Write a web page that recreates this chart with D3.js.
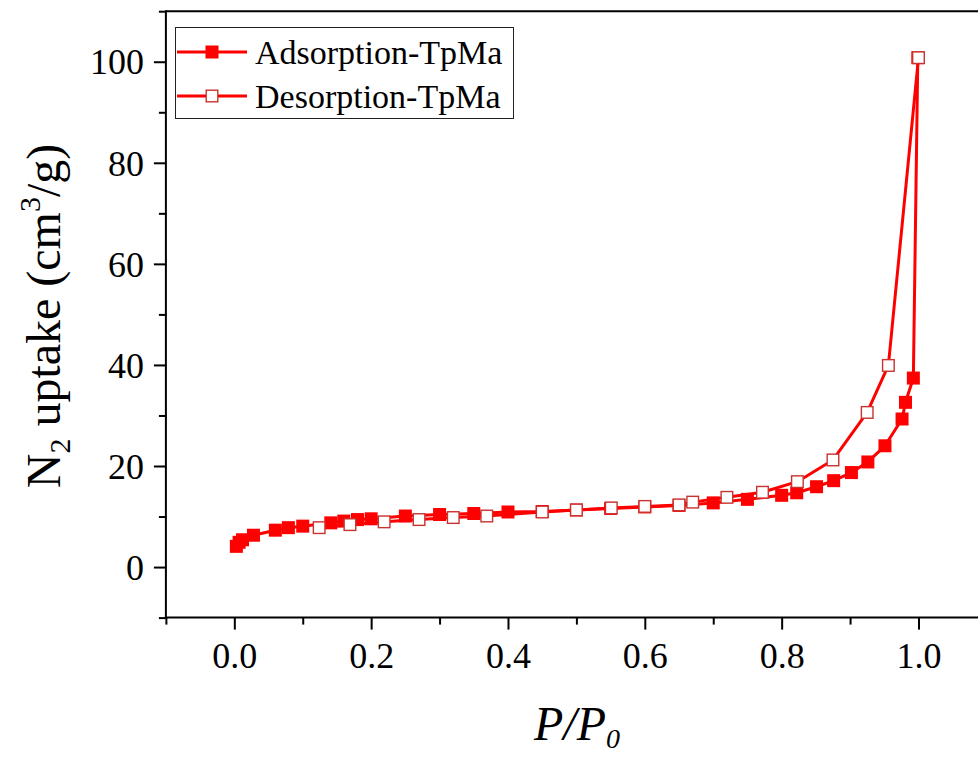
<!DOCTYPE html>
<html>
<head>
<meta charset="utf-8">
<script src="https://cdn.jsdelivr.net/npm/d3@7"></script>
<style>
  html, body { margin: 0; padding: 0; background: #ffffff; }
  svg { display: block; }
  text { font-family: "Liberation Serif", "Times New Roman", serif; fill: #000; }
</style>
</head>
<body>
<svg id="chart" width="978" height="758"></svg>
<script>
// N2 isotherm of TpMa: relative pressure vs. uptake (cm3/g)
const adsX = [0.003, 0.007, 0.012, 0.028, 0.06, 0.079, 0.1, 0.141, 0.16, 0.18, 0.2, 0.25, 0.30, 0.35, 0.40, 0.45, 0.50, 0.55, 0.60, 0.65, 0.70, 0.75, 0.80, 0.822, 0.851, 0.876, 0.902, 0.926, 0.951, 0.976, 0.981, 0.9925, 0.999];
const adsY = [4.1, 4.9, 5.4, 6.3, 7.3, 7.8, 8.1, 8.75, 9.1, 9.4, 9.55, 10.1, 10.4, 10.6, 10.9, 11.0, 11.3, 11.6, 11.9, 12.2, 12.7, 13.4, 14.2, 14.7, 15.9, 17.1, 18.7, 20.8, 24.0, 29.3, 32.6, 37.4, 100.8];

const desX = [1.0, 0.956, 0.925, 0.875, 0.823, 0.772, 0.72, 0.67, 0.65, 0.60, 0.551, 0.50, 0.45, 0.369, 0.32, 0.27, 0.219, 0.169, 0.124];
const desY = [100.8, 39.9, 30.6, 21.2, 16.9, 14.8, 13.8, 12.85, 12.3, 12.0, 11.7, 11.3, 10.9, 10.1, 9.8, 9.4, 8.95, 8.4, 7.8];

const xMajorTicks = [0.0, 0.2, 0.4, 0.6, 0.8, 1.0];
const xMinorTicks = [-0.1, 0.1, 0.3, 0.5, 0.7, 0.9, 1.1];
const yMajorTicks = [0, 20, 40, 60, 80, 100];
const yMinorTicks = [-10, 10, 30, 50, 70, 90, 110];

const seriesNames = ["Adsorption-TpMa", "Desorption-TpMa"];

const RED = "#ff0000";
const OPEN_EDGE = "#c8322f";

const svg = d3.select("#chart");

const x = d3.scaleLinear().domain([-0.1, 1.1]).range([165.9, 986.9]);
const y = d3.scaleLinear().domain([-10, 110]).range([617.6, 11.2]);

const plotLeft = x(-0.1), plotTop = y(110), plotBottom = y(-10);

// frame: top border
svg.append("line")
  .attr("x1", plotLeft).attr("x2", 978)
  .attr("y1", plotTop).attr("y2", plotTop)
  .attr("stroke", "#000").attr("stroke-width", 2);

// x axis
const gx = svg.append("g").attr("transform", `translate(0,${plotBottom})`);
gx.call(d3.axisBottom(x).tickValues(xMinorTicks).tickSize(7).tickSizeOuter(0).tickFormat(""));
gx.call(g => g.select(".domain").remove());
const gx2 = svg.append("g").attr("transform", `translate(0,${plotBottom})`);
gx2.call(d3.axisBottom(x).tickValues(xMajorTicks).tickSize(12).tickSizeOuter(0).tickPadding(8)
  .tickFormat(d3.format(".1f")));
gx2.select(".domain").remove();
svg.append("line")
  .attr("x1", plotLeft - 1).attr("x2", 978)
  .attr("y1", plotBottom).attr("y2", plotBottom)
  .attr("stroke", "#000").attr("stroke-width", 2);

// y axis
const gy = svg.append("g").attr("transform", `translate(${plotLeft},0)`);
gy.call(d3.axisLeft(y).tickValues(yMinorTicks).tickSize(7).tickSizeOuter(0).tickFormat(""));
gy.select(".domain").remove();
const gy2 = svg.append("g").attr("transform", `translate(${plotLeft},0)`);
gy2.call(d3.axisLeft(y).tickValues(yMajorTicks).tickSize(12).tickSizeOuter(0).tickPadding(10)
  .tickFormat(d3.format("d")));
gy2.select(".domain").remove();
svg.append("line")
  .attr("x1", plotLeft).attr("x2", plotLeft)
  .attr("y1", plotTop - 1).attr("y2", plotBottom + 1)
  .attr("stroke", "#000").attr("stroke-width", 2);

svg.selectAll(".tick line").attr("stroke", "#000").attr("stroke-width", 2);
svg.selectAll(".tick text")
  .style("font-family", '"Liberation Serif", "Times New Roman", serif')
  .style("font-size", "36px").attr("fill", "#000");
gx2.selectAll(".tick text").attr("dy", "0.85em");
gy2.selectAll(".tick text").attr("dy", "0.34em");

// axis titles
const xTitle = svg.append("text")
  .attr("x", 577).attr("y", 740)
  .attr("text-anchor", "middle")
  .style("font-size", "48px").style("font-style", "italic");
xTitle.append("tspan").text("P/P");
xTitle.append("tspan").attr("dy", 8).style("font-size", "28px").text("0");

const yTitle = svg.append("text")
  .attr("transform", "translate(60,316) rotate(-90)")
  .attr("text-anchor", "middle")
  .style("font-size", "48px");
yTitle.append("tspan").text("N");
yTitle.append("tspan").attr("dy", 10).style("font-size", "30px").text("2");
yTitle.append("tspan").attr("dy", -10).text(" uptake (cm");
yTitle.append("tspan").attr("dy", -20).style("font-size", "30px").text("3");
yTitle.append("tspan").attr("dy", 20).text("/g)");

// series
const ads = adsX.map((v, i) => [v, adsY[i]]);
const des = desX.map((v, i) => [v, desY[i]]);
const line = d3.line().x(d => x(d[0])).y(d => y(d[1]));

const plot = svg.append("g");
const MS = 13;

plot.append("path").datum(ads)
  .attr("d", line).attr("fill", "none")
  .attr("stroke", RED).attr("stroke-width", 3).attr("stroke-linejoin", "round");
plot.append("g").selectAll("rect").data(ads).join("rect")
  .attr("x", d => x(d[0]) - MS / 2).attr("y", d => y(d[1]) - MS / 2)
  .attr("width", MS).attr("height", MS)
  .attr("fill", RED);

plot.append("path").datum(des)
  .attr("d", line).attr("fill", "none")
  .attr("stroke", RED).attr("stroke-width", 3).attr("stroke-linejoin", "round");
plot.append("g").selectAll("rect").data(des).join("rect")
  .attr("x", d => x(d[0]) - (MS - 1.4) / 2).attr("y", d => y(d[1]) - (MS - 1.4) / 2)
  .attr("width", MS - 1.4).attr("height", MS - 1.4)
  .attr("fill", "#fff").attr("stroke", OPEN_EDGE).attr("stroke-width", 1.4);

// legend
const legend = svg.append("g");
legend.append("rect")
  .attr("x", 175.5).attr("y", 27.5).attr("width", 338).attr("height", 91)
  .attr("fill", "#fff").attr("stroke", "#222").attr("stroke-width", 1);
const rowY = [52, 96];
seriesNames.forEach((name, i) => {
  const g = legend.append("g").attr("transform", `translate(0,${rowY[i]})`);
  g.append("line").attr("x1", 177).attr("x2", 247).attr("y1", 0).attr("y2", 0)
    .attr("stroke", RED).attr("stroke-width", 3);
  if (i === 0) {
    g.append("rect").attr("x", 212 - MS / 2).attr("y", -MS / 2)
      .attr("width", MS).attr("height", MS).attr("fill", RED);
  } else {
    g.append("rect").attr("x", 212 - (MS - 1.4) / 2).attr("y", -(MS - 1.4) / 2)
      .attr("width", MS - 1.4).attr("height", MS - 1.4)
      .attr("fill", "#fff").attr("stroke", OPEN_EDGE).attr("stroke-width", 1.4);
  }
  g.append("text").attr("x", 255).attr("y", 0).attr("dy", "0.35em")
    .style("font-size", "34px").text(name);
});
</script>
</body>
</html>
